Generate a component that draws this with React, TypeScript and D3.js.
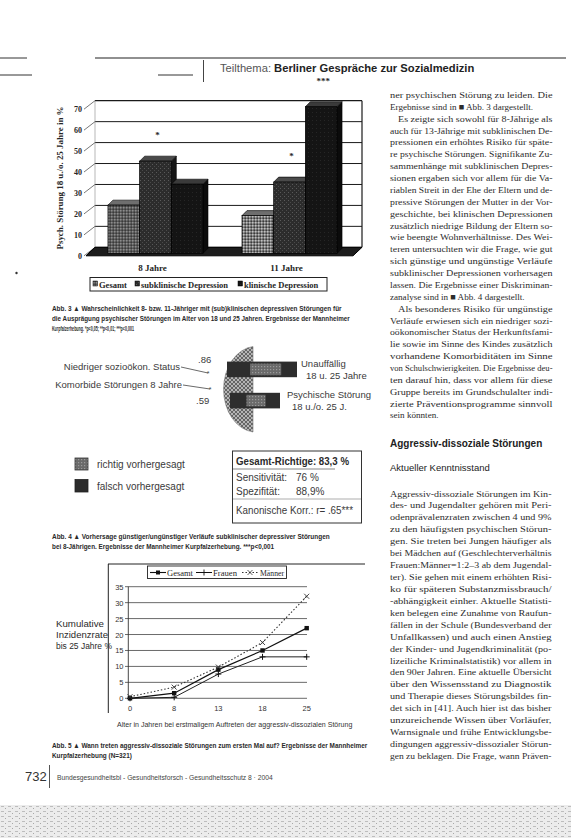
import React, { useLayoutEffect, useRef, useState } from "react";
import * as d3 from "d3";

// ---------- Abb. 3 data ----------
const barCategories = ["8 Jahre", "11 Jahre"];
const barSeries = ["Gesamt", "subklinische Depression", "klinische Depression"];
const barGesamt = [23, 18];
const barSubklinisch = [44, 34];
const barKlinisch = [33, 70];
const barSigSub = ["*", "*"];
const barSigKlin = ["", "***"];
const barYTicks = [0, 10, 20, 30, 40, 50, 60, 70];

// ---------- Abb. 4 data ----------
const discPredictors = ["Niedriger sozioökon. Status", "Komorbide Störungen 8 Jahre"];
const discLoadings = [".86", ".59"];
const discGroups = ["Unauffällig", "Psychische Störung"];
const discGroupSub = ["18 u. 25 Jahre", "18 u./o. 25 J."];
const discTotal = [70, 50];
const discRichtigShare = [0.889, 0.76];

// ---------- Abb. 5 data ----------
const ageTicks = ["0", "8", "13", "18", "25"];
const incGesamt = [0, 1.6, 9, 15, 22];
const incFrauen = [0, 0.3, 7.6, 13, 13];
const incMaenner = [0.5, 3.5, 9.8, 17.5, 32];
const incYTicks = [0, 5, 10, 15, 20, 25, 30, 35];

// ---------- page text ----------
const colA = [
  "ner psychischen Störung zu leiden. Die",
  "Ergebnisse sind in ■ Abb. 3 dargestellt.",
  "Es zeigte sich sowohl für 8-Jährige als",
  "auch für 13-Jährige mit subklinischen De-",
  "pressionen ein erhöhtes Risiko für späte-",
  "re psychische Störungen. Signifikante Zu-",
  "sammenhänge mit subklinischen Depres-",
  "sionen ergaben sich vor allem für die Va-",
  "riablen Streit in der Ehe der Eltern und de-",
  "pressive Störungen der Mutter in der Vor-",
  "geschichte, bei klinischen Depressionen",
  "zusätzlich niedrige Bildung der Eltern so-",
  "wie beengte Wohnverhältnisse. Des Wei-",
  "teren untersuchten wir die Frage, wie gut",
  "sich günstige und ungünstige Verläufe",
  "subklinischer Depressionen vorhersagen",
  "lassen. Die Ergebnisse einer Diskriminan-",
  "zanalyse sind in ■ Abb. 4 dargestellt.",
  "Als besonderes Risiko für ungünstige",
  "Verläufe erwiesen sich ein niedriger sozi-",
  "oökonomischer Status der Herkunftsfami-",
  "lie sowie im Sinne des Kindes zusätzlich",
  "vorhandene Komorbiditäten im Sinne",
  "von Schulschwierigkeiten. Die Ergebnisse deu-",
  "ten darauf hin, dass vor allem für diese",
  "Gruppe bereits im Grundschulalter indi-",
  "zierte Präventionsprogramme sinnvoll",
  "sein könnten.",
];
const colAIndent = [2, 18];
const colALast = [1, 17, 27];

const colB = [
  "Aggressiv-dissoziale Störungen im Kin-",
  "des- und Jugendalter gehören mit Peri-",
  "odenprävalenzraten zwischen 4 und 9%",
  "zu den häufigsten psychischen Störun-",
  "gen. Sie treten bei Jungen häufiger als",
  "bei Mädchen auf (Geschlechterverhältnis",
  "Frauen:Männer=1:2–3 ab dem Jugendal-",
  "ter). Sie gehen mit einem erhöhten Risi-",
  "ko für späteren Substanzmissbrauch/",
  "-abhängigkeit einher. Aktuelle Statisti-",
  "ken belegen eine Zunahme von Raufun-",
  "fällen in der Schule (Bundesverband der",
  "Unfallkassen) und auch einen Anstieg",
  "der Kinder- und Jugendkriminalität (po-",
  "lizeiliche Kriminalstatistik) vor allem in",
  "den 90er Jahren. Eine aktuelle Übersicht",
  "über den Wissensstand zu Diagnostik",
  "und Therapie dieses Störungsbildes fin-",
  "det sich in [41]. Auch hier ist das bisher",
  "unzureichende Wissen über Vorläufer,",
  "Warnsignale und frühe Entwicklungsbe-",
  "dingungen aggressiv-dissozialer Störun-",
  "gen zu beklagen. Die Frage, wann Präven-",
];

const cap3 = [
  "Abb. 3 ▲ Wahrscheinlichkeit 8- bzw. 11-Jähriger mit (sub)klinischen depressiven Störungen für",
  "die Ausprägung psychischer Störungen im Alter von 18 und 25 Jahren. Ergebnisse der Mannheimer",
  "Kurpfalzerhebung. *p<0,05; **p<0,01; ***p<0,001",
];
const cap4 = [
  "Abb. 4 ▲ Vorhersage günstiger/ungünstiger Verläufe subklinischer depressiver Störungen",
  "bei 8-Jährigen. Ergebnisse der Mannheimer Kurpfalzerhebung. ***p<0,001",
];
const cap5 = [
  "Abb. 5 ▲ Wann treten aggressiv-dissoziale Störungen zum ersten Mal auf? Ergebnisse der Mannheimer",
  "Kurpfalzerhebung (N=321)",
];

const SERIF = "'Liberation Serif', 'DejaVu Serif', serif";
const SANS = "'Liberation Sans', Arial, sans-serif";
const NARROW = "'Liberation Sans Narrow', 'Liberation Sans', sans-serif";
const INK = "#262626";

// text squeezed horizontally to an exact width (so its real box matches what is drawn)
function FitText(props: { x: number; y: number; width: number; children: string; [k: string]: any }) {
  const { x, y, width, children, ...rest } = props;
  const ref = useRef<SVGTextElement>(null);
  const [s, setS] = useState(1);
  useLayoutEffect(() => {
    if (ref.current) {
      const w = ref.current.getComputedTextLength();
      if (w > 0) setS(width / w);
    }
  }, [width, children]);
  return (
    <text ref={ref} transform={`translate(${x},${y}) scale(${s},1)`} {...rest}>
      {children}
    </text>
  );
}

function BarChart() {
  const yWall = d3.scaleLinear().domain([0, 70]).range([247.3, 100.7]);
  const xWall0 = 95;
  const xWall1 = 362;
  const dX = 9;
  const dY = -8.5;
  const x0 = d3.scaleBand().domain(barCategories).range([89.2, 355.8]).paddingInner(0.291).paddingOuter(0.14);
  const x1 = d3.scaleBand().domain(barSeries).range([0, x0.bandwidth()]);
  const seriesVals = [barGesamt, barSubklinisch, barKlinisch];
  const fills = ["url(#pGes)", "url(#pSub)", "url(#pKlin)"];
  const sideFills = ["#2a2a2a", "#151515", "#0b0b0b"];
  const topFills = ["#6e6e6e", "#4a4a4a", "#3a3a3a"];
  const bdx = 5, bdy = -5;
  const frontShift = 6;
  const yBar = (v: number) => yWall(v) + frontShift;
  const bars: JSX.Element[] = [];
  barCategories.forEach((c, ci) => {
    barSeries.forEach((s, si) => {
      const v = seriesVals[si][ci];
      const bx = (x0(c) as number) + (x1(s) as number);
      const bw = x1.bandwidth();
      const yt = yBar(v);
      const yb = yBar(0);
      bars.push(
        <g key={c + s}>
          <polygon
            points={`${bx + bw},${yt} ${bx + bw + bdx},${yt + bdy} ${bx + bw + bdx},${yb + bdy} ${bx + bw},${yb}`}
            fill={sideFills[si]}
            stroke="#000"
            strokeWidth={0.6}
          />
          <polygon
            points={`${bx},${yt} ${bx + bdx},${yt + bdy} ${bx + bw + bdx},${yt + bdy} ${bx + bw},${yt}`}
            fill={topFills[si]}
            stroke="#000"
            strokeWidth={0.6}
          />
          <rect x={bx} y={yt} width={bw} height={yb - yt} fill={ci === 1 && si === 0 ? "url(#pGes2)" : fills[si]} stroke="#000" strokeWidth={0.7} />
        </g>
      );
    });
  });
  const stars: JSX.Element[] = [];
  barCategories.forEach((c, ci) => {
    [barSigSub, barSigKlin].forEach((sig, k) => {
      const s = barSeries[k + 1];
      const v = seriesVals[k + 1][ci];
      if (!sig[ci]) return;
      const cx = (x0(c) as number) + (x1(s) as number) + x1.bandwidth() / 2 + 2;
      stars.push(
        <text key={c + s} x={cx} y={yWall(v) - 17} textAnchor="middle" fontFamily={SERIF} fontWeight="bold" fontSize={9} fill={INK}>
          {sig[ci]}
        </text>
      );
    });
  });
  return (
    <g>
      {barYTicks.map((t) => (
        <line key={"g" + t} x1={xWall0} x2={xWall1} y1={yWall(t)} y2={yWall(t)} stroke="#1a1a1a" strokeWidth={t === 70 ? 1.2 : 1} />
      ))}
      <line x1={xWall1} x2={xWall1} y1={yWall(70)} y2={yWall(0)} stroke="#1a1a1a" strokeWidth={1.2} />
      <line x1={xWall0} x2={xWall0} y1={yWall(70)} y2={yWall(0)} stroke="#888" strokeWidth={0.6} />
      {barYTicks.map((t) => (
        <g key={"t" + t}>
          <line x1={xWall0 - dX - 2} y1={yWall(t) - dY} x2={xWall0} y2={yWall(t)} stroke="#555" strokeWidth={0.8} />
          <text x={xWall0 - dX - 4} y={yWall(t) - dY + 3} textAnchor="end" fontFamily={SERIF} fontWeight="bold" fontSize={8} fill={INK}>
            {t}
          </text>
        </g>
      ))}
      <polygon
        points={`${xWall0 - dX},${yWall(0) - dY} ${xWall1 - dX},${yWall(0) - dY} ${xWall1},${yWall(0)} ${xWall0},${yWall(0)}`}
        fill="#1c1c1c"
        stroke="#000"
      />
      {bars}
      {stars}
      <text
        transform={`translate(63,${(yWall(70) + yWall(0)) / 2 + 4}) rotate(-90)`}
        textAnchor="middle"
        fontFamily={SERIF}
        fontWeight="bold"
        fontSize={8.5}
        fill={INK}
        textLength={143}
        lengthAdjust="spacingAndGlyphs"
      >
        Psych. Störung 18 u./o. 25 Jahre in %
      </text>
      {barCategories.map((c) => (
        <text key={c} x={(x0(c) as number) + x0.bandwidth() / 2 - 3} y={271} textAnchor="middle" fontFamily={SERIF} fontWeight="bold" fontSize={9} fill={INK}>
          {c}
        </text>
      ))}
      <rect x={90} y={277.5} width={237} height={13.5} fill="none" stroke="#222" strokeWidth={1} />
      {barSeries.map((s, i) => {
        const lx = [93, 135, 238][i];
        return (
          <g key={s}>
            <rect x={lx} y={281} width={4.5} height={5} fill={fills[i]} stroke="#000" strokeWidth={0.5} />
            <text x={lx + 6} y={287.5} fontFamily={SERIF} fontWeight="bold" fontSize={8.5} fill={INK}>
              {s}
            </text>
          </g>
        );
      })}
    </g>
  );
}

function DiscChart() {
  const yB = d3.scaleBand().domain(discGroups).range([346, 424]).paddingInner(0.5).paddingOuter(0.5);
  const len = d3.scaleLinear().domain([0, 70]).range([0, 70]);
  const bx = 227;
  return (
    <g fontFamily={SANS}>
      <path d="M 253 346.5 A 33 43 0 0 0 253 432 Z" fill="url(#pCross)" stroke="#777" strokeWidth={0.6} />
      {discGroups.map((g, i) => {
        const y = yB(g) as number;
        const h = yB.bandwidth();
        const x = bx + i * 3;
        const L = len(discTotal[i]);
        const r = L * discRichtigShare[i];
        return (
          <g key={g}>
            <rect x={x} y={y} width={L} height={h} fill="#2d2d2d" />
            <rect x={x + L * 0.33} y={y + 2} width={r * 0.5} height={h - 4} fill="url(#pRicht)" />
            <text x={x + L + [4, 7][i]} y={y + 5} fontSize={9.5} fill="#3a3a3a">{g}</text>
            <text x={x + L + [9, 12][i]} y={y + 17} fontSize={9.5} fill="#3a3a3a">{discGroupSub[i]}</text>
          </g>
        );
      })}
      {discPredictors.map((p, i) => {
        const ty = [370, 388][i];
        const ex = [180, 182][i];
        const tx = [208, 210][i];
        const tyEnd = [373, 389][i];
        return (
          <g key={p}>
            <text x={ex} y={ty} textAnchor="end" fontSize={9.5} fill="#3a3a3a">{p}</text>
            <line x1={ex + 1} y1={ty - 3} x2={tx} y2={tyEnd} stroke="#444" strokeWidth={0.8} />
            <text x={tx} y={tyEnd + 2.5} textAnchor="middle" fontSize={7} fill="#444">*</text>
          </g>
        );
      })}
      <text x={198} y={363} fontSize={9.5} fill="#3a3a3a">{discLoadings[0]}</text>
      <text x={196} y={404} fontSize={9.5} fill="#3a3a3a">{discLoadings[1]}</text>
      <rect x={75} y={458} width={13} height={12} fill="url(#pRicht)" stroke="#333" strokeWidth={0.8} />
      <text x={97} y={468} fontSize={10} fill="#3a3a3a">richtig vorhergesagt</text>
      <rect x={75} y={479.5} width={13} height={12.5} fill="#2b2b2b" stroke="#222" strokeWidth={0.8} />
      <text x={97} y={489.5} fontSize={10} fill="#3a3a3a">falsch vorhergesagt</text>
      <rect x={232.5} y={451} width={129} height={72} fill="none" stroke="#333" strokeWidth={1} />
      <text x={236} y={465} fontSize={10} fontWeight="bold" fill="#2a2a2a" textLength={113} lengthAdjust="spacingAndGlyphs">Gesamt-Richtige: 83,3 %</text>
      <line x1={233} x2={335} y1={469} y2={469} stroke="#555" strokeWidth={0.7} />
      <text x={236} y={480.5} fontSize={10} fill="#3a3a3a">Sensitivität:</text>
      <text x={296} y={480.5} fontSize={10} fill="#3a3a3a">76 %</text>
      <text x={236} y={495} fontSize={10} fill="#3a3a3a">Spezifität:</text>
      <text x={296} y={495} fontSize={10} fill="#3a3a3a">88,9%</text>
      <line x1={233} x2={361} y1={499} y2={499} stroke="#777" strokeWidth={0.6} />
      <text x={236} y={514} fontSize={10} fill="#3a3a3a" textLength={117} lengthAdjust="spacingAndGlyphs">Kanonische Korr.: r= .65***</text>
    </g>
  );
}

function LineChart() {
  const x = d3.scalePoint().domain(ageTicks).range([130, 306.7]);
  const y = d3.scaleLinear().domain([0, 35]).range([698.3, 586.7]);
  const mk = (vals: number[]) =>
    d3.line<number>().x((_, i) => x(ageTicks[i]) as number).y((d) => y(d))(vals) || "";
  return (
    <g>
      <line x1={108} x2={365} y1={564} y2={564} stroke="#222" strokeWidth={1} />
      <line x1={108.3} x2={108.3} y1={564} y2={713} stroke="#222" strokeWidth={1} />
      {incYTicks.map((t) => (
        <g key={t}>
          <line x1={128} x2={307} y1={y(t)} y2={y(t)} stroke="#444" strokeWidth={0.8} />
          <line x1={125} x2={128} y1={y(t)} y2={y(t)} stroke="#444" strokeWidth={0.8} />
          <text x={123.5} y={y(t) + 3} textAnchor="end" fontFamily={SANS} fontSize={7.5} fill="#333">{t}</text>
        </g>
      ))}
      <line x1={128.3} x2={128.3} y1={y(35)} y2={y(0)} stroke="#333" strokeWidth={0.9} />
      {ageTicks.map((a) => (
        <text key={a} x={x(a) as number} y={711} textAnchor="middle" fontFamily={SANS} fontSize={7.5} fill="#333">{a}</text>
      ))}
      <path d={mk(incMaenner)} fill="none" stroke="#333" strokeWidth={1.1} strokeDasharray="1.5,2" />
      <path d={mk(incFrauen)} fill="none" stroke="#222" strokeWidth={1} />
      <path d={mk(incGesamt)} fill="none" stroke="#111" strokeWidth={1.2} />
      {incGesamt.map((v, i) => (
        <rect key={"g" + i} x={(x(ageTicks[i]) as number) - 2.2} y={y(v) - 2.2} width={4.4} height={4.4} fill="#111" />
      ))}
      {incFrauen.map((v, i) => {
        const cx = x(ageTicks[i]) as number;
        const cy = y(v);
        return <path key={"f" + i} d={`M${cx - 3},${cy}H${cx + 3}M${cx},${cy - 3}V${cy + 3}`} stroke="#111" strokeWidth={1} />;
      })}
      {incMaenner.map((v, i) => {
        const cx = x(ageTicks[i]) as number;
        const cy = y(v);
        return <path key={"m" + i} d={`M${cx - 2.5},${cy - 2.5}L${cx + 2.5},${cy + 2.5}M${cx - 2.5},${cy + 2.5}L${cx + 2.5},${cy - 2.5}`} stroke="#333" strokeWidth={0.9} />;
      })}
      <rect x={147.5} y={566} width={139} height={12.5} fill="#fff" stroke="#222" strokeWidth={0.9} />
      <line x1={150} x2={166} y1={572.5} y2={572.5} stroke="#111" strokeWidth={1.1} />
      <rect x={156} y={570.5} width={4} height={4} fill="#111" />
      <FitText x={167} y={575.5} width={26} fontFamily={SERIF} fontSize={8.5} fill={INK}>Gesamt</FitText>
      <line x1={196} x2={212} y1={572.5} y2={572.5} stroke="#111" strokeWidth={1} />
      <path d="M201,572.5H207M204,569.5V575.5" stroke="#111" strokeWidth={0.9} />
      <FitText x={213} y={575.5} width={24} fontFamily={SERIF} fontSize={8.5} fill={INK}>Frauen</FitText>
      <line x1={242} x2={258} y1={572.5} y2={572.5} stroke="#333" strokeWidth={1} strokeDasharray="1.5,2" />
      <path d="M247.5,570L252.5,575M247.5,575L252.5,570" stroke="#333" strokeWidth={0.8} />
      <FitText x={260} y={575.5} width={24} fontFamily={SERIF} fontSize={8.5} fill={INK}>Männer</FitText>
      {["Kumulative", "Inzidenzrate", "bis 25 Jahre %"].map((l, i) => (
        <FitText key={l} x={56} y={627 + i * 11} width={[48, 52, 56][i]} fontFamily={SANS} fontSize={9.5} fill="#2a2a2a">{l}</FitText>
      ))}
      <FitText x={117} y={727} width={236} fontFamily={SANS} fontSize={7.5} fill="#333">
        Alter in Jahren bei erstmaligem Auftreten der aggressiv-dissozialen Störung
      </FitText>
    </g>
  );
}

function BodyText() {
  const lineA = (i: number) => 98 + i * 11.87;
  const lineB = (i: number) => 496.5 + i * 11.93;
  const L = 390, R = 552.5;
  return (
    <g fontFamily={SERIF} fontSize={9.1} fill="#2c2c2c">
      {colA.map((t, i) => {
        const ind = colAIndent.includes(i) ? 8 : 0;
        const last = colALast.includes(i);
        return (
          <text key={"a" + i} x={L + ind} y={lineA(i)} {...(last ? {} : { textLength: R - L - ind, lengthAdjust: "spacingAndGlyphs" })}>
            {t}
          </text>
        );
      })}
      <text x={L} y={447} fontFamily={SANS} fontWeight="bold" fontSize={10} fill="#222">Aggressiv-dissoziale Störungen</text>
      <text x={L} y={471} fontFamily={SANS} fontSize={9.5} fill="#222">Aktueller Kenntnisstand</text>
      {colB.map((t, i) => (
        <text key={"b" + i} x={L} y={lineB(i)} textLength={R - L - 1} lengthAdjust="spacingAndGlyphs">
          {t}
        </text>
      ))}
    </g>
  );
}

function Captions() {
  const cap = (lines: string[], y0: number, widths: number[], k: string) =>
    lines.map((l, i) => (
      <FitText key={k + i} x={52} y={y0 + i * 10} width={widths[i]} fontFamily={NARROW} fontWeight="bold" fontSize={7.8} fill="#2a2a2a">
        {l}
      </FitText>
    ));
  return (
    <g>
      {cap(cap3, 311, [290, 298, 82], "c3")}
      {cap(cap4, 538.5, [278, 222], "c4")}
      {cap(cap5, 748, [316, 80], "c5")}
    </g>
  );
}

export default function App() {
  return (
    <svg width={571} height={838} style={{ position: "absolute", left: 0, top: 0, background: "#fff" }}>
      <defs>
        <pattern id="pGes" width="3" height="3" patternUnits="userSpaceOnUse">
          <rect width="3" height="3" fill="#5a5a5a" />
          <rect width="1.5" height="1.5" fill="#8c8c8c" />
          <rect x="1.5" y="1.5" width="1.5" height="1.5" fill="#3a3a3a" />
        </pattern>
        <pattern id="pGes2" width="3" height="3" patternUnits="userSpaceOnUse">
          <rect width="3" height="3" fill="#7a7a7a" />
          <rect width="1.5" height="1.5" fill="#c0c0c0" />
          <rect x="1.5" y="1.5" width="1.5" height="1.5" fill="#3a3a3a" />
        </pattern>
        <pattern id="pSub" width="4" height="4" patternUnits="userSpaceOnUse">
          <rect width="4" height="4" fill="#2c2c2c" />
          <rect width="1" height="1" fill="#5a5a5a" />
          <rect x="2" y="2" width="1" height="1" fill="#4a4a4a" />
        </pattern>
        <pattern id="pKlin" width="4" height="4" patternUnits="userSpaceOnUse">
          <rect width="4" height="4" fill="#141414" />
          <rect width="1" height="1" fill="#262626" />
        </pattern>
        <pattern id="pCross" width="4" height="4" patternUnits="userSpaceOnUse">
          <rect width="4" height="4" fill="#b5b5b5" />
          <path d="M0,0L4,4M4,0L0,4" stroke="#505050" strokeWidth="0.8" />
        </pattern>
        <pattern id="pRicht" width="3" height="3" patternUnits="userSpaceOnUse">
          <rect width="3" height="3" fill="#6a6a6a" />
          <rect width="1.2" height="1.2" fill="#9a9a9a" />
        </pattern>
        <pattern id="pNoise" width="7" height="5" patternUnits="userSpaceOnUse">
          <rect width="7" height="5" fill="#ececec" />
          <rect x="1" y="1" width="3" height="1" fill="#bdbdbd" />
          <rect x="5" y="3" width="1" height="1" fill="#a8a8a8" />
        </pattern>
      </defs>

      <line x1={95} x2={566} y1={58} y2={58} stroke="#222" strokeWidth={1.1} />
      <line x1={0} x2={27} y1={58} y2={58} stroke="#333" strokeWidth={1} />
      <line x1={0} x2={32} y1={75} y2={75} stroke="#333" strokeWidth={1} />
      <line x1={158} x2={193} y1={75} y2={75} stroke="#333" strokeWidth={1} />
      <line x1={203.5} x2={203.5} y1={60} y2={82} stroke="#444" strokeWidth={1} />
      <text x={220} y={71.5} fontFamily={SANS} fontSize={11.2} fill="#222">
        <tspan fill="#555">Teilthema: </tspan>
        <tspan fontWeight="bold">Berliner Gespräche zur Sozialmedizin</tspan>
      </text>
      <circle cx={16.5} cy={273} r={1.2} fill="#333" />

      <BarChart />
      <DiscChart />
      <LineChart />
      <Captions />
      <BodyText />

      <text x={25} y={781} fontFamily={SANS} fontSize={13} fill="#333">732</text>
      <line x1={49.5} x2={49.5} y1={765} y2={788} stroke="#555" strokeWidth={1} />
      <FitText x={57} y={780} width={216} fontFamily={SANS} fontSize={7.5} fill="#444">
        Bundesgesundheitsbl - Gesundheitsforsch - Gesundheitsschutz 8 · 2004
      </FitText>
      <rect x={0} y={805} width={571} height={33} fill="url(#pNoise)" />
    </svg>
  );
}
